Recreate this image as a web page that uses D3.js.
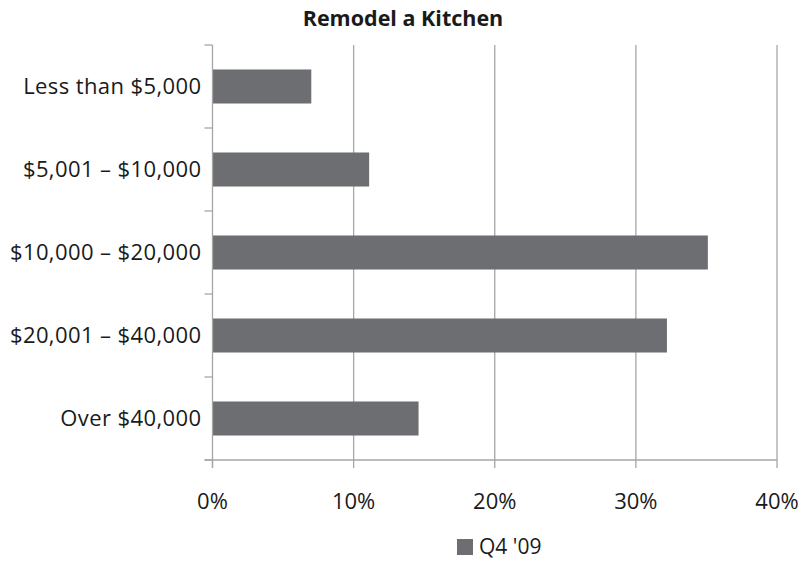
<!DOCTYPE html>
<html>
<head>
<meta charset="utf-8">
<script src="https://cdn.jsdelivr.net/npm/d3@7"></script>
<style>
body { margin: 0; background: #fff; }
svg text { font-family: "Open Sans", "Liberation Sans", sans-serif; fill: #1a1a1a; }
</style>
</head>
<body>
<svg></svg>
<script>
var categories = ['Less than $5,000', '$5,001 \u2013 $10,000', '$10,000 \u2013 $20,000', '$20,001 \u2013 $40,000', 'Over $40,000'];
var values = [7.0, 11.1, 35.1, 32.2, 14.6];
var xTicks = [0, 10, 20, 30, 40];
var seriesName = "Q4 '09";
var title = 'Remodel a Kitchen';

var W = 802, H = 564;
var L = 212.5, R = 25, T = 45, B = 104;

var root = d3.select('svg')
    .attr('width', W)
    .attr('height', H);

var x = d3.scaleLinear()
    .domain([0, 40])
    .range([L, W - R]);
var y = d3.scaleBand()
    .domain(categories)
    .range([T, H - B])
    .paddingInner(0.59)
    .paddingOuter(0.295);

var grid = '#a6a6a6';

// gridlines
root.append('g')
    .selectAll('line')
    .data(xTicks.slice(1))
    .enter()
    .append('line')
    .attr('x1', function (d) { return x(d); })
    .attr('x2', function (d) { return x(d); })
    .attr('y1', T)
    .attr('y2', H - B)
    .attr('stroke', grid)
    .attr('stroke-width', 1.3);

// bars
root.append('g')
    .selectAll('rect')
    .data(values)
    .enter()
    .append('rect')
    .attr('x', x(0))
    .attr('y', function (d, i) { return y(categories[i]); })
    .attr('width', function (d) { return x(d) - x(0); })
    .attr('height', y.bandwidth())
    .attr('fill', '#6d6e71');

// y axis line + ticks at band boundaries
var yAxis = root.append('g');
yAxis.append('line')
    .attr('x1', x(0)).attr('x2', x(0))
    .attr('y1', T).attr('y2', H - B + 8)
    .attr('stroke', grid).attr('stroke-width', 1.3);
yAxis.selectAll('line.tick')
    .data(d3.range(categories.length + 1))
    .enter()
    .append('line')
    .attr('class', 'tick')
    .attr('x1', x(0) - 8).attr('x2', x(0))
    .attr('y1', function (i) { return T + i * (H - B - T) / categories.length; })
    .attr('y2', function (i) { return T + i * (H - B - T) / categories.length; })
    .attr('stroke', grid).attr('stroke-width', 1.3);
yAxis.selectAll('text')
    .data(categories)
    .enter()
    .append('text')
    .attr('x', x(0) - 11)
    .attr('y', function (d) { return y(d) + y.bandwidth() / 2; })
    .attr('dy', '0.35em')
    .attr('text-anchor', 'end')
    .style('font-size', '22px')
    .style('letter-spacing', '0.4px')
    .text(function (d) { return d; });

// x axis
var xAxis = root.append('g');
xAxis.append('line')
    .attr('x1', x(0) - 8).attr('x2', x(40))
    .attr('y1', H - B).attr('y2', H - B)
    .attr('stroke', grid).attr('stroke-width', 1.3);
xAxis.selectAll('line.tick')
    .data(xTicks)
    .enter()
    .append('line')
    .attr('class', 'tick')
    .attr('x1', function (d) { return x(d); })
    .attr('x2', function (d) { return x(d); })
    .attr('y1', H - B).attr('y2', H - B + 8)
    .attr('stroke', grid).attr('stroke-width', 1.3);
xAxis.selectAll('text')
    .data(xTicks)
    .enter()
    .append('text')
    .attr('x', function (d) { return x(d); })
    .attr('y', H - B + 41)
    .attr('dy', '0.35em')
    .attr('text-anchor', 'middle')
    .style('font-size', '22px')
    .text(function (d) { return d + '%'; });

// title
root.append('text')
    .attr('x', 403)
    .attr('y', 18)
    .attr('dy', '0.35em')
    .attr('text-anchor', 'middle')
    .style('font-size', '21.5px')
    .style('font-weight', 'bold')
    .text(title);

// legend
var lg = root.append('g').attr('transform', 'translate(457,539)');
lg.append('rect')
    .attr('width', 16).attr('height', 16)
    .attr('fill', '#6d6e71');
lg.append('text')
    .attr('x', 22)
    .attr('y', 8)
    .attr('dy', '0.35em')
    .style('font-size', '21px')
    .text(seriesName);
</script>
</body>
</html>
